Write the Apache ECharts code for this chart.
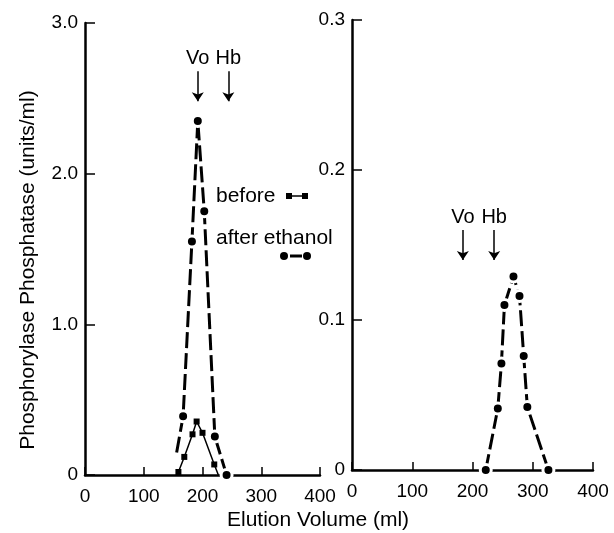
<!DOCTYPE html>
<html>
<head>
<meta charset="utf-8">
<script src="https://cdn.jsdelivr.net/npm/echarts@6/dist/echarts.min.js"></script>
<style>
html,body{margin:0;padding:0;background:#fff;}
#chart{width:614px;height:533px;}
</style>
</head>
<body>
<div id="chart"></div>
<script>
// ---- data ----
const xTicks = [0, 100, 200, 300, 400];
const leftYTicks = [0, 1.0, 2.0, 3.0];
const rightYTicks = [0, 0.1, 0.2, 0.3];

// Left panel: before ethanol (squares), elution volume ml -> units/ml
const beforeLeft = [[159, 0.02], [169, 0.12], [183, 0.27], [190, 0.355], [200, 0.28], [220, 0.07], [227, 0]];
// Left panel: after ethanol (circles)
const afterLeft = [[156, 0.15], [167, 0.39], [182, 1.55], [192, 2.35], [203, 1.75], [221, 0.255], [241, 0]];
// Right panel: after ethanol (circles)
const afterRight = [[222, 0], [242, 0.041], [248, 0.071], [253, 0.110], [268, 0.129], [278, 0.116], [285, 0.076], [291, 0.042], [326, 0]];

// Markers (elution volume of Vo and Hb)
const markersLeft = [{name: 'Vo', x: 192}, {name: 'Hb', x: 244}];
const markersRight = [{name: 'Vo', x: 184}, {name: 'Hb', x: 236}];
const arrowLeftY = [2.68, 2.48];
const arrowRightY = [0.160, 0.140];

const FONT = 'Liberation Sans, Arial, Helvetica, sans-serif';

function arrowLines(markers, yr) {
  return markers.map(m => [
    {coord: [m.x, yr[0]], label: {formatter: m.name}},
    {coord: [m.x, yr[1]]}
  ]);
}

function yFmt(v) { return v === 0 ? '0' : v.toFixed(1); }

const axisLineStyle = {lineStyle: {color: '#000', width: 2.5}};

const chart = echarts.init(document.getElementById('chart'), null, {renderer: 'canvas'});

function yAxisDef(idx, max, interval) {
  return {
    type: 'value', gridIndex: idx, position: 'left', min: 0, max: max, interval: interval,
    axisLine: axisLineStyle,
    axisTick: {show: true, inside: true, length: 10, lineStyle: {color: '#000', width: 1.5}},
    axisLabel: {fontSize: 19, color: '#000', margin: 7, formatter: yFmt, fontFamily: FONT},
    splitLine: {show: false}
  };
}

const markLineDef = (markers, yr) => ({
  silent: true, symbol: ['none', 'arrow'], symbolSize: 9,
  lineStyle: {color: '#000', width: 1.5, type: 'solid'},
  label: {show: true, position: 'start', fontSize: 20, color: '#000', fontFamily: FONT, distance: 3},
  data: arrowLines(markers, yr)
});

const option = {
  animation: false,
  backgroundColor: '#fff',
  textStyle: {fontFamily: FONT, color: '#000'},
  grid: [
    {left: 85, top: 23, width: 235, height: 452},
    {left: 352, top: 20, width: 241, height: 450}
  ],
  xAxis: [0, 1].map(i => ({
    type: 'value', gridIndex: i, min: xTicks[0], max: xTicks[xTicks.length - 1], interval: 100,
    axisLine: axisLineStyle,
    axisTick: {show: true, inside: true, length: 8, lineStyle: {color: '#000', width: 1.5}},
    axisLabel: {fontSize: 19, color: '#000', margin: 12, fontFamily: FONT},
    splitLine: {show: false}
  })),
  yAxis: [yAxisDef(0, leftYTicks[3], 1.0), yAxisDef(1, rightYTicks[3], 0.1)],
  series: [
    {
      name: 'before', type: 'line', xAxisIndex: 0, yAxisIndex: 0,
      data: beforeLeft,
      symbol: (v, p) => (p.dataIndex === beforeLeft.length - 1 ? 'none' : 'rect'),
      symbolSize: 6,
      itemStyle: {color: '#000'},
      lineStyle: {color: '#000', width: 1.5},
      z: 3
    },
    {
      name: 'after ethanol', type: 'line', xAxisIndex: 0, yAxisIndex: 0,
      data: afterLeft,
      symbol: (v, p) => (p.dataIndex === 0 ? 'none' : 'circle'),
      symbolSize: 11,
      itemStyle: {color: '#000', borderColor: '#fff', borderWidth: 3},
      lineStyle: {color: '#000', width: 3, type: [16, 5]},
      markLine: markLineDef(markersLeft, arrowLeftY),
      z: 4
    },
    {
      name: 'after ethanol (right)', type: 'line', xAxisIndex: 1, yAxisIndex: 1,
      data: afterRight,
      symbol: 'circle', symbolSize: 11,
      itemStyle: {color: '#000', borderColor: '#fff', borderWidth: 3},
      lineStyle: {color: '#000', width: 3, type: [16, 5]},
      markLine: markLineDef(markersRight, arrowRightY),
      z: 4
    }
  ],
  graphic: [
    // axis titles
    {type: 'text', x: 318, y: 520, style: {text: 'Elution Volume (ml)', font: '21px ' + FONT, fill: '#000', align: 'center', verticalAlign: 'middle'}},
    {type: 'text', x: 28, y: 270, rotation: Math.PI / 2,
      style: {text: 'Phosphorylase Phosphatase (units/ml)', font: '21px ' + FONT, fill: '#000', align: 'center', verticalAlign: 'middle'}},
    // legend
    {type: 'text', x: 216, y: 196, style: {text: 'before', font: '21px ' + FONT, fill: '#000', verticalAlign: 'middle'}},
    {type: 'text', x: 216, y: 238, style: {text: 'after ethanol', font: '21px ' + FONT, fill: '#000', verticalAlign: 'middle'}},
    {type: 'line', shape: {x1: 289, y1: 196, x2: 305, y2: 196}, style: {stroke: '#000', lineWidth: 1.5}},
    {type: 'rect', shape: {x: 286, y: 193, width: 6, height: 6}, style: {fill: '#000'}},
    {type: 'rect', shape: {x: 302, y: 193, width: 6, height: 6}, style: {fill: '#000'}},
    {type: 'line', shape: {x1: 290, y1: 256, x2: 302, y2: 256}, style: {stroke: '#000', lineWidth: 3}},
    {type: 'circle', shape: {cx: 284, cy: 256, r: 4}, style: {fill: '#000'}},
    {type: 'circle', shape: {cx: 307, cy: 256, r: 4}, style: {fill: '#000'}}
  ]
};
chart.setOption(option);
</script>
</body>
</html>
